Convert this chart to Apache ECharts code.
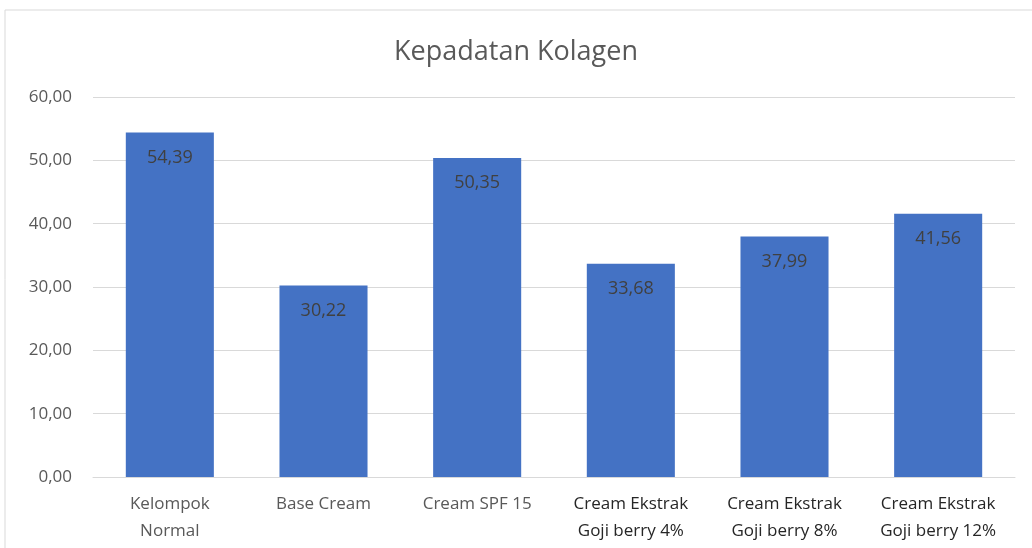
<!DOCTYPE html>
<html><head><meta charset="utf-8">
<script src="https://cdn.jsdelivr.net/npm/echarts@6/dist/echarts.min.js"></script>
<style>html,body{margin:0;padding:0;background:#fff}#c{width:1032px;height:548px}</style>
</head><body><div id="c"></div>
<script>
const categories = ['Kelompok\nNormal','Base Cream','Cream SPF 15','Cream Ekstrak\nGoji berry 4%','Cream Ekstrak\nGoji berry 8%','Cream Ekstrak\nGoji berry 12%'];
const labelColors = ['#595959','#595959','#595959','#262626','#262626','#262626'];
const values = [54.39, 30.22, 50.35, 33.68, 37.99, 41.56];
const yTicks = {min:0, max:60, interval:10};
const fmt = v => v.toFixed(2).replace('.', ',');
const chart = echarts.init(document.getElementById('c'));
chart.setOption({
  animation:false,
  backgroundColor:'#fff',
  graphic:[{type:'rect',shape:{x:5,y:10,width:1040,height:560},style:{fill:'none',stroke:'#d9d9d9',lineWidth:1}}],
  title:{text:'Kepadatan Kolagen',left:'center',top:34,textStyle:{fontFamily:'Open Sans',fontSize:27,fontWeight:'normal',color:'#595959'}},
  grid:{left:93,right:17,top:97,bottom:71,containLabel:false},
  xAxis:{type:'category',data:categories.map((c,i)=>({value:c,textStyle:{color:labelColors[i]}})),
    axisLine:{lineStyle:{color:'#d9d9d9',width:1}},axisTick:{show:false},
    axisLabel:{fontFamily:'Open Sans',fontSize:17,lineHeight:27,margin:14,interval:0}},
  yAxis:{type:'value',min:yTicks.min,max:yTicks.max,interval:yTicks.interval,
    axisLine:{show:false},axisTick:{show:false},
    splitLine:{lineStyle:{color:'#d9d9d9',width:1}},
    axisLabel:{formatter:fmt,fontFamily:'Open Sans',fontSize:17,color:'#595959',margin:21}},
  series:[{type:'bar',data:values,barWidth:'57.3%',itemStyle:{color:'#4472C4'},
    label:{show:true,position:'insideTop',distance:16,formatter:p=>fmt(p.value),fontFamily:'Open Sans',fontSize:18,color:'#404040'}}]
});
</script></body></html>
